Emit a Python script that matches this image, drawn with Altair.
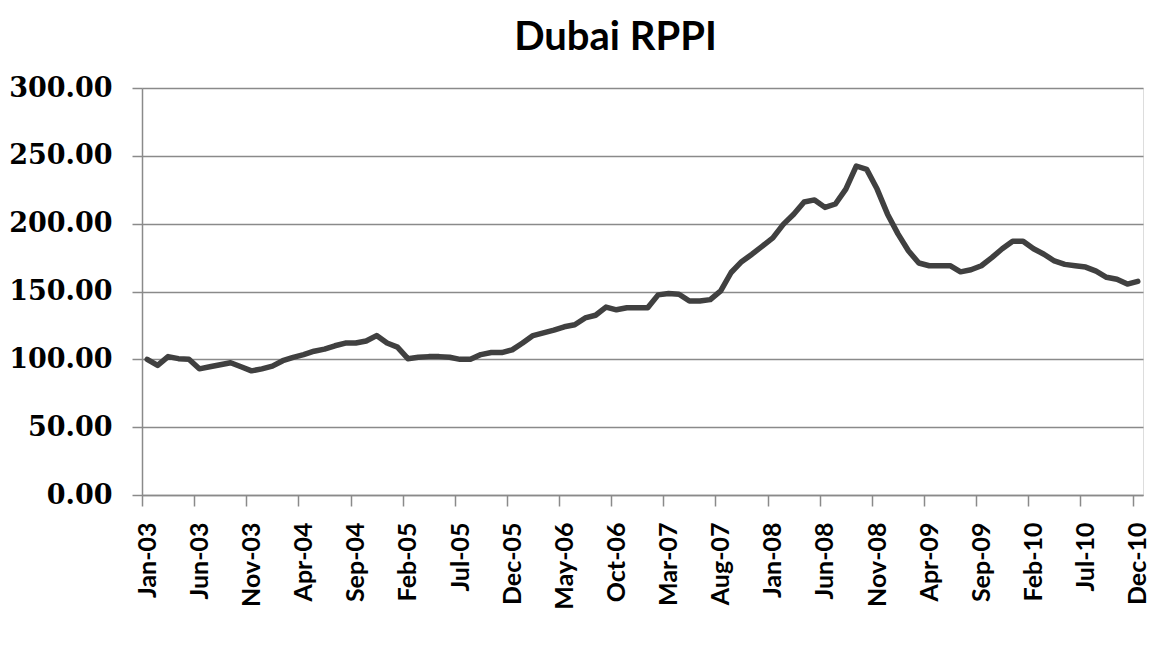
import altair as alt
import pandas as pd

# Monthly Dubai RPPI, Jan-03 .. Dec-10
rppi = [
    100, 95.5, 102, 100.5, 100, 93, 94.5, 96, 97.5, 94.5, 91.5, 93,
    95, 99, 101.5, 103.5, 106, 107.5, 110, 112, 112, 113.5, 117.5, 112,
    109, 100.5, 101.5, 102, 102, 101.5, 100, 100, 103.5, 105, 105, 107,
    112, 117.5, 119.5, 121.5, 124, 125.5, 130.5, 132.5, 138.5, 136.5, 138, 138,
    138, 147.5, 148.5, 148, 143, 143, 144, 150.5, 164, 172, 177.5, 183.5,
    189.5, 199.5, 207, 216, 217.5, 212, 214.5, 225.5, 242.5, 240, 225.5, 207,
    192.5, 180, 171, 169, 169, 169, 164.5, 166, 169, 175, 181.5, 187,
    187, 181.5, 177.5, 172.5, 170, 169, 168, 165, 160.5, 159, 155.5, 157.5,
]

tick_labels = [
    "Jan-03", "Jun-03", "Nov-03", "Apr-04", "Sep-04", "Feb-05", "Jul-05",
    "Dec-05", "May-06", "Oct-06", "Mar-07", "Aug-07", "Jan-08", "Jun-08",
    "Nov-08", "Apr-09", "Sep-09", "Feb-10", "Jul-10", "Dec-10",
]

y_ticks = [0, 50, 100, 150, 200, 250, 300]

months = pd.date_range("2003-01-01", periods=len(rppi), freq="MS").strftime("%b-%y")
df = pd.DataFrame({"idx": list(range(len(rppi))), "month": list(months), "rppi": rppi})

n = len(rppi)
tick_vals = [-0.5 + 5 * k for k in range(len(tick_labels))]
label_expr = "[" + ",".join("'%s'" % t for t in tick_labels) + "][round((datum.value + 0.5) / 5)]"

W, H = 1001, 407
band = W / n

grey = "#8a8a8a"

chart = (
    alt.Chart(df)
    .mark_line(color="#404040", strokeWidth=5.5, strokeJoin="round", strokeCap="round")
    .encode(
        x=alt.X(
            "idx:Q",
            title=None,
            scale=alt.Scale(domain=[-0.5, n - 0.5], nice=False, zero=False),
            axis=alt.Axis(
                values=tick_vals,
                labelExpr=label_expr,
                labelAngle=270,
                labelOffset=band / 2,
                labelFont="Lato",
                labelFontWeight="bold",
                labelFontSize=25,
                labelColor="#000000",
                labelPadding=16,
                labelOverlap=False,
                labelFlush=False,
                labelBound=False,
                tickSize=11,
                tickColor=grey,
                tickWidth=1.5,
                domainColor=grey,
                domainWidth=1.5,
                grid=False,
            ),
        ),
        y=alt.Y(
            "rppi:Q",
            title=None,
            scale=alt.Scale(domain=[0, 300], nice=False),
            axis=alt.Axis(
                values=y_ticks,
                format=".2f",
                labelFont="DejaVu Serif",
                labelFontWeight="bold",
                labelFontSize=27,
                labelColor="#000000",
                labelPadding=20,
                tickSize=10,
                tickColor=grey,
                tickWidth=1.5,
                domainColor=grey,
                domainWidth=1.5,
                grid=True,
                gridColor=grey,
                gridWidth=1.5,
            ),
        ),
    )
    .properties(
        width=W,
        height=H,
        title=alt.TitleParams(
            "Dubai RPPI",
            font="Lato",
            fontSize=40,
            fontWeight="bold",
            color="#000000",
            anchor="middle",
            dx=-27,
            offset=16,
        ),
        autosize=alt.AutoSizeParams(type="none"),
        padding={"left": 134, "top": 80, "right": 15, "bottom": 145},
    )
    .configure_view(stroke=None)
    .configure(background="#ffffff")
)

chart.save("out.html", embed_options={"renderer": "svg", "actions": False})
